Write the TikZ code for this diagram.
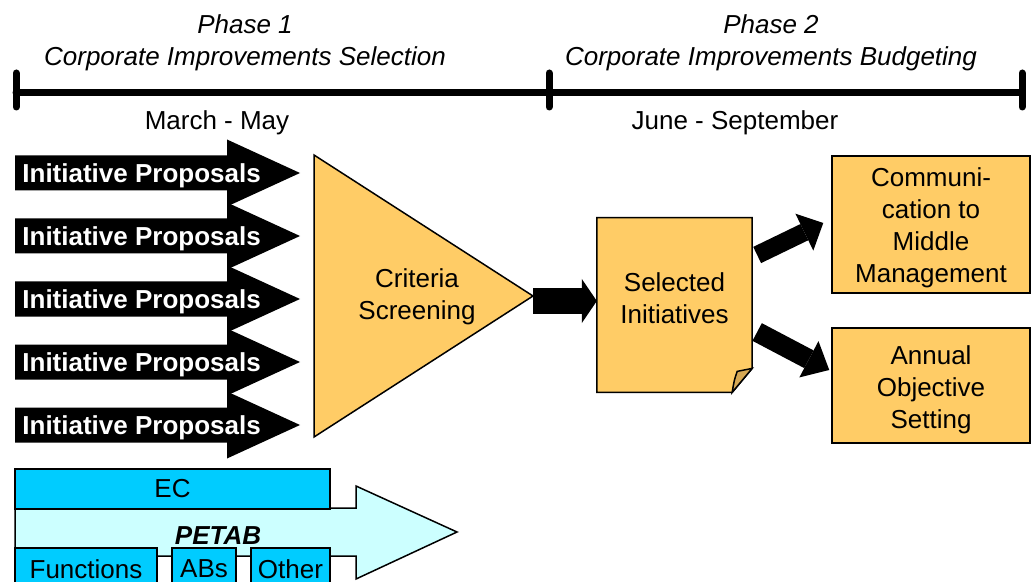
\documentclass[tikz,border=0pt]{standalone}
\usepackage{fontspec}
\setmainfont{Liberation Sans}
\usetikzlibrary{arrows.meta,positioning}

\definecolor{boxfill}{RGB}{255,204,102}
\definecolor{foldfill}{RGB}{214,168,84}
\definecolor{ecfill}{RGB}{0,204,255}
\definecolor{petabfill}{RGB}{204,255,255}

\begin{document}
\begin{tikzpicture}[x=0.5pt,y=-0.5pt,
font=\fontsize{13pt}{16pt}\selectfont,
box/.style={rectangle, draw, fill=boxfill, line width=0.75pt, inner sep=0pt},
unit/.style={rectangle, draw, fill=ecfill, line width=0.75pt, inner sep=0pt, minimum height=21pt},
proposal/.style={anchor=west, inner sep=0pt, text=white, font=\fontsize{13pt}{16pt}\selectfont\bfseries},
info/.style={draw=none, fill=none, inner sep=0pt, align=center},
timeline/.style={line width=3.5pt, line cap=round},
fat/.style args={#1/#2/#3}{line width=#1, -{Triangle[length=#2, width=#3, line width=0pt]}}]

%% picture frame
\clip (0,0) rectangle (1031,582);

%% local variables
\def \top {173}
\def \gap {63}
\def \NUMOFPROPOSALS {5}

%% time line with the two phases
\coordinate (T-0) at (16,93);
\coordinate (T-1) at (549,93);
\coordinate (T-2) at (1022,93);
\draw[timeline] (T-0) -- (T-2);
\foreach \t in {0,1,2}
      \draw[timeline] ([yshift=10pt]T-\t) -- ([yshift=-7pt]T-\t);

\node[info, font=\fontsize{13pt}{16pt}\selectfont\itshape] (ph-1) at (245,43) {Phase 1\\Corporate Improvements Selection};
\node[info, font=\fontsize{13pt}{16pt}\selectfont\itshape] (ph-2) at (771,43) {Phase 2\\Corporate Improvements Budgeting};
\node[info] (when-1) at (217,123) {March - May};
\node[info] (when-2) at (735,123) {June - September};

%% place all proposal arrows
\foreach \s in {1,...,\NUMOFPROPOSALS} {
      \pgfmathsetmacro\yc{\top + (\s - 1) * \gap}
      \fill (15,\yc-17.5) -- (227,\yc-17.5) -- (227,\yc-33.5) -- (300,\yc)
            -- (227,\yc+33.5) -- (227,\yc+17.5) -- (15,\yc+17.5) -- cycle;
      \node[proposal] (P-\s) at (22,\yc+3) {Initiative Proposals};
}

%% screening triangle
\filldraw[fill=boxfill, line width=0.75pt] (314,155) -- (533,296) -- (314,437) -- cycle;
\node[info] (crit) at (417,297) {Criteria\\Screening};
\coordinate (crit-out) at (533,301);

%% selected initiatives (page with folded corner)
\node[rectangle, inner sep=0pt, minimum width=77.25pt, minimum height=87pt] (sel) at (674.5,305) {};
\filldraw[fill=boxfill, line width=0.75pt] (sel.north west) -- (sel.north east) -- ([yshift=12pt]sel.south east)
      -- ([xshift=-10pt]sel.south east) -- (sel.south west) -- cycle;
\filldraw[fill=foldfill, line width=0.75pt] ([yshift=12pt]sel.south east) -- ([xshift=-7.5pt,yshift=10.5pt]sel.south east)
      .. controls ([xshift=-9pt,yshift=6pt]sel.south east) .. ([xshift=-10pt]sel.south east) -- cycle;
\node[info] (sel-text) at (674.5,298) {Selected\\Initiatives};

%% outcomes
\node[box, minimum width=99pt, minimum height=68.5pt] (comm) at (931,224.5) {};
\node[info] (comm-text) at ([yshift=-1.5pt]comm) {Communi-\\cation to\\Middle\\Management};
\node[box, minimum width=99pt, minimum height=57.5pt] (annual) at (931,385.5) {};
\node[info] (annual-text) at ([yshift=-2pt]annual) {Annual\\Objective\\Setting};

%% place all connectors
\draw[fat={13pt/7.5pt/22pt}] (crit-out) -- (crit-out -| sel.west);
\draw[fat={9pt/10.5pt/20.5pt}] ([xshift=2.5pt,yshift=25pt]sel.east) -- ([xshift=-4pt,yshift=0.75pt]comm.west);
\draw[fat={10pt/11.5pt/20.5pt}] ([xshift=2.5pt,yshift=-13.5pt]sel.east) -- ([xshift=-1pt,yshift=7.75pt]annual.west);

%% PETAB arrow with its units
\filldraw[fill=petabfill, line width=0.75pt] (15,508) -- (356,508) -- (356,486) -- (457,532)
      -- (356,579) -- (356,556) -- (15,556) -- cycle;
\node[info, font=\fontsize{13pt}{16pt}\selectfont\bfseries\itshape] (petab) at (218,536) {PETAB};
\node[unit, minimum width=157.5pt, minimum height=20pt] (ec) at (172.5,489) {\raisebox{-1pt}{EC}};
\node[unit, minimum width=71pt] (func) at (86,569) {Functions};
\node[unit, minimum width=32pt] (abs) at (204,569) {ABs};
\node[unit, minimum width=39.5pt] (other) at (290.5,569) {Other};

\end{tikzpicture}
\end{document}
